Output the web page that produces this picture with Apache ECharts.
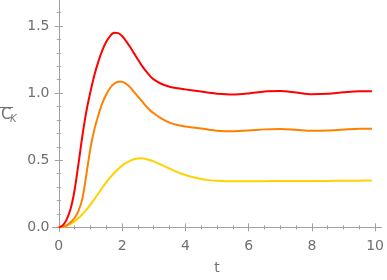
<!DOCTYPE html>
<html>
<head>
<meta charset="utf-8">
<script src="https://cdn.jsdelivr.net/npm/echarts@6/dist/echarts.min.js"></script>
<style>html,body{margin:0;padding:0;background:#fff;}#c{width:387px;height:280px;}</style>
</head>
<body>
<div id="c"></div>
<script>
var tValues = [0,0.125,0.25,0.375,0.5,0.625,0.75,0.875,1,1.125,1.25,1.375,1.5,1.625,1.75,1.875,2,2.125,2.25,2.375,2.5,2.625,2.75,2.875,3,
  3.25,3.5,3.75,4,4.25,4.5,4.75,5,
  5.5,6,6.5,7,7.5,8,8.5,9,9.5,9.9];
var redValues = [0,0.015,0.06,0.14,0.28,0.48,0.69,0.87,1.01,1.135,1.235,1.318,1.382,1.427,1.449,1.447,1.425,1.388,1.345,1.298,1.25,1.205,1.165,1.13,1.102,
  1.068,1.048,1.036,1.028,1.02,1.012,1.003,0.996,
  0.99,0.998,1.012,1.015,1.004,0.992,0.995,1.006,1.014,1.014];
var orangeValues = [0,0.004,0.016,0.038,0.07,0.125,0.22,0.4,0.59,0.73,0.835,0.925,0.99,1.04,1.07,1.085,1.085,1.07,1.045,1.01,0.975,0.94,0.905,0.875,0.85,
  0.81,0.78,0.762,0.752,0.744,0.736,0.728,0.72,
  0.716,0.721,0.73,0.733,0.727,0.72,0.722,0.729,0.735,0.735];
var yellowValues = [0,0.003,0.012,0.026,0.045,0.07,0.1,0.133,0.17,0.21,0.252,0.295,0.335,0.372,0.405,0.435,0.46,0.48,0.496,0.507,0.513,0.514,0.51,0.502,0.492,
  0.466,0.438,0.412,0.39,0.373,0.361,0.352,0.347,
  0.343,0.343,0.344,0.345,0.345,0.345,0.346,0.347,0.348,0.349];
var xMajorTicks = [0,2,4,6,8,10];
var xMinorTicks = [0.5,1,1.5,2.5,3,3.5,4.5,5,5.5,6.5,7,7.5,8.5,9,9.5];
var yMajorTicks = [0,0.5,1,1.5];
var yMinorTicks = [0.1,0.2,0.3,0.4,0.6,0.7,0.8,0.9,1.1,1.2,1.3,1.4,1.6];

function pairs(xs, ys){ return xs.map(function(x,i){return [x, ys[i]];}); }

var frameColor = '#a0a0a0';
var labelColor = '#707070';
var font = 'DejaVu Sans';
var XMIN=-0.2, XMAX=10.2, YMIN=-0.027, YMAX=1.69;

function xAx(pos, major, withLabel){
  return {
    type:'value', position:pos, min:XMIN, max:XMAX,
    axisLine:{show:major, lineStyle:{color:frameColor, width:1}},
    axisTick:{show:true, inside:true, length: major?4:2, customValues: major?xMajorTicks:xMinorTicks, lineStyle:{color:frameColor}},
    axisLabel:{show:withLabel, customValues:xMajorTicks, color:labelColor, fontSize:14, fontFamily:font, margin:8},
    splitLine:{show:false},
    name: withLabel ? 't' : '', nameLocation:'middle', nameGap:30,
    nameTextStyle:{color:labelColor, fontSize:14, fontFamily:font}
  };
}
function yAx(pos, major, withLabel){
  return {
    type:'value', position:pos, min:YMIN, max:YMAX,
    axisLine:{show:major, lineStyle:{color:frameColor, width:1}},
    axisTick:{show:true, inside:true, length: major?4:2, customValues: major?yMajorTicks:yMinorTicks, lineStyle:{color:frameColor}},
    axisLabel:{show:withLabel, customValues:yMajorTicks, color:labelColor, fontSize:14, fontFamily:font, margin:3,
      formatter:function(v){return v.toFixed(1);}},
    splitLine:{show:false}
  };
}

var chart = echarts.init(document.getElementById('c'), null, {renderer:'canvas'});
chart.setOption({
  animation:false,
  backgroundColor:'#fff',
  grid:{left:52.5, right:5, top:0.5, bottom:48.5, containLabel:false},
  xAxis:[xAx('bottom',true,true), xAx('bottom',false,false), xAx('top',true,false), xAx('top',false,false)],
  yAxis:[yAx('left',true,true), yAx('left',false,false), yAx('right',true,false), yAx('right',false,false)],
  series:[
    {type:'line', data:pairs(tValues,yellowValues), smooth:0.3, showSymbol:false, lineStyle:{color:'#ffd200', width:2}, z:2},
    {type:'line', data:pairs(tValues,orangeValues), smooth:0.3, showSymbol:false, lineStyle:{color:'#ff8000', width:2}, z:3},
    {type:'line', data:pairs(tValues,redValues), smooth:0.3, showSymbol:false, lineStyle:{color:'#ff0000', width:2}, z:4}
  ],
  graphic:[
    {type:'text', left:1, top:108, style:{text:'C', fontSize:15, fontFamily:font, fill:labelColor}},
    {type:'text', left:10, top:114, style:{text:'K', fontSize:10, fontStyle:'italic', fontFamily:font, fill:labelColor}},
    {type:'line', shape:{x1:0, y1:107.5, x2:13, y2:107.5}, style:{stroke:labelColor, lineWidth:1}}
  ]
});
</script>
</body>
</html>
